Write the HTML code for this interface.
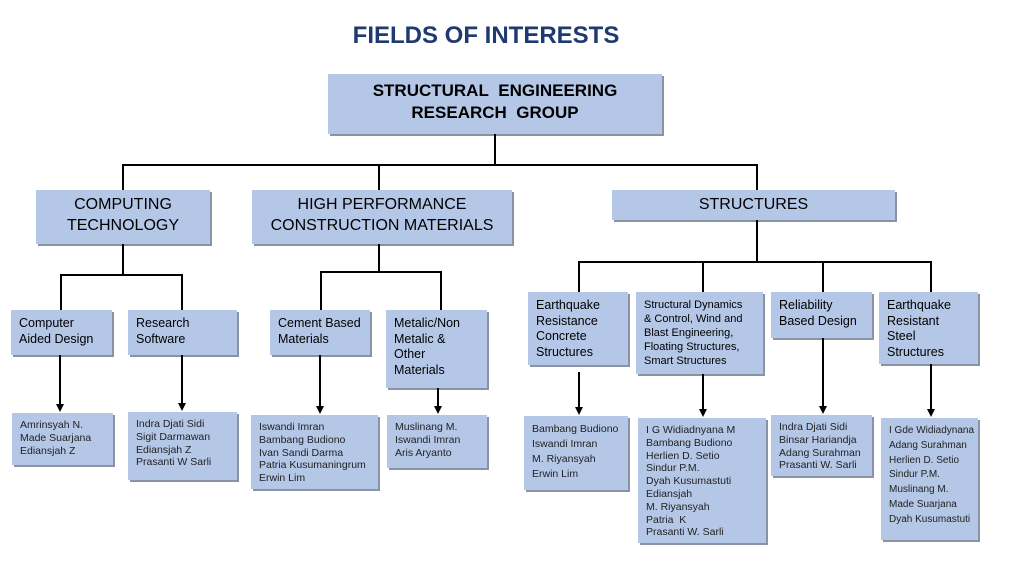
<!DOCTYPE html>
<html><head><style>
body{margin:0;width:1024px;height:579px;background:#fff;position:relative;overflow:hidden;font-family:"Liberation Sans",Arial,sans-serif;}
.b{position:absolute;background:#b4c7e7;box-shadow:2px 2px 0 #8a93a6;box-sizing:border-box;color:#000;}
.l{position:absolute;background:#000;}
.a{position:absolute;width:0;height:0;border-left:4px solid transparent;border-right:4px solid transparent;border-top:8px solid #000;}
.p{font-size:10.5px;line-height:12.8px;padding:6px 8px;color:#222;white-space:nowrap;}
.s{font-size:12.5px;line-height:15.5px;padding:6px 8px;white-space:nowrap;}
.m{font-size:16px;line-height:21px;text-align:center;padding-top:4px;}
</style></head><body>
<div style="position:absolute;left:0;width:972px;top:22px;text-align:center;font-size:24px;font-weight:bold;color:#1f3a70;">FIELDS OF INTERESTS</div>
<div class="b" style="left:328px;top:74px;width:334px;height:60px;text-align:center;font-weight:bold;font-size:17px;line-height:22px;padding-top:6px;">STRUCTURAL&nbsp; ENGINEERING<br>RESEARCH&nbsp; GROUP</div>
<div class="l" style="left:494px;top:134px;width:1.5px;height:31px"></div>
<div class="l" style="left:122px;top:164px;width:635px;height:1.5px"></div>
<div class="l" style="left:122px;top:164px;width:1.5px;height:26px"></div>
<div class="l" style="left:378px;top:164px;width:1.5px;height:26px"></div>
<div class="l" style="left:756px;top:164px;width:1.5px;height:26px"></div>
<div class="b m" style="left:36px;top:190px;width:174px;height:54px;">COMPUTING<br>TECHNOLOGY</div>
<div class="b m" style="left:252px;top:190px;width:260px;height:54px;">HIGH PERFORMANCE<br>CONSTRUCTION MATERIALS</div>
<div class="b m" style="left:612px;top:190px;width:283px;height:30px;">STRUCTURES</div>
<div class="l" style="left:122px;top:244px;width:1.5px;height:31px"></div>
<div class="l" style="left:60px;top:274px;width:123px;height:1.5px"></div>
<div class="l" style="left:60px;top:274px;width:1.5px;height:36px"></div>
<div class="l" style="left:181px;top:274px;width:1.5px;height:36px"></div>
<div class="l" style="left:378px;top:244px;width:1.5px;height:28px"></div>
<div class="l" style="left:320px;top:271px;width:121px;height:1.5px"></div>
<div class="l" style="left:320px;top:271px;width:1.5px;height:39px"></div>
<div class="l" style="left:440px;top:271px;width:1.5px;height:39px"></div>
<div class="l" style="left:756px;top:220px;width:1.5px;height:42px"></div>
<div class="l" style="left:578px;top:261px;width:353px;height:1.5px"></div>
<div class="l" style="left:578px;top:261px;width:1.5px;height:31px"></div>
<div class="l" style="left:702px;top:261px;width:1.5px;height:31px"></div>
<div class="l" style="left:822px;top:261px;width:1.5px;height:31px"></div>
<div class="l" style="left:930px;top:261px;width:1.5px;height:31px"></div>
<div class="b s" style="left:11px;top:310px;width:101px;height:45px;">Computer<br>Aided Design</div>
<div class="b s" style="left:128px;top:310px;width:109px;height:45px;">Research<br>Software</div>
<div class="b s" style="left:270px;top:310px;width:100px;height:45px;">Cement Based<br>Materials</div>
<div class="b s" style="left:386px;top:310px;width:101px;height:78px;">Metalic/Non<br>Metalic &amp;<br>Other<br>Materials</div>
<div class="b s" style="left:528px;top:292px;width:100px;height:73px;">Earthquake<br>Resistance<br>Concrete<br>Structures</div>
<div class="b" style="left:636px;top:292px;width:127px;height:82px;font-size:11px;line-height:14px;padding:6px 8px;white-space:nowrap;">Structural Dynamics<br>&amp; Control, Wind and<br>Blast Engineering,<br>Floating Structures,<br>Smart Structures</div>
<div class="b s" style="left:771px;top:292px;width:101px;height:46px;">Reliability<br>Based Design</div>
<div class="b s" style="left:879px;top:292px;width:99px;height:72px;">Earthquake<br>Resistant<br>Steel<br>Structures</div>
<div class="l" style="left:59px;top:355px;width:1.5px;height:50px"></div><div class="a" style="left:56px;top:404px"></div>
<div class="l" style="left:181px;top:355px;width:1.5px;height:49px"></div><div class="a" style="left:178px;top:403px"></div>
<div class="l" style="left:319px;top:355px;width:1.5px;height:52px"></div><div class="a" style="left:316px;top:406px"></div>
<div class="l" style="left:437px;top:388px;width:1.5px;height:19px"></div><div class="a" style="left:434px;top:406px"></div>
<div class="l" style="left:578px;top:372px;width:1.5px;height:36px"></div><div class="a" style="left:575px;top:407px"></div>
<div class="l" style="left:702px;top:374px;width:1.5px;height:36px"></div><div class="a" style="left:699px;top:409px"></div>
<div class="l" style="left:822px;top:338px;width:1.5px;height:69px"></div><div class="a" style="left:819px;top:406px"></div>
<div class="l" style="left:930px;top:364px;width:1.5px;height:46px"></div><div class="a" style="left:927px;top:409px"></div>
<div class="b p" style="left:12px;top:413px;width:101px;height:52px;">Amrinsyah N.<br>Made Suarjana<br>Ediansjah Z</div>
<div class="b p" style="left:128px;top:412px;width:109px;height:68px;">Indra Djati Sidi<br>Sigit Darmawan<br>Ediansjah Z<br>Prasanti W Sarli</div>
<div class="b p" style="left:251px;top:415px;width:127px;height:74px;">Iswandi Imran<br>Bambang Budiono<br>Ivan Sandi Darma<br>Patria Kusumaningrum<br>Erwin Lim</div>
<div class="b p" style="left:387px;top:415px;width:100px;height:53px;">Muslinang M.<br>Iswandi Imran<br>Aris Aryanto</div>
<div class="b p" style="left:524px;top:416px;width:104px;height:74px;line-height:15px;">Bambang Budiono<br>Iswandi Imran<br>M. Riyansyah<br>Erwin Lim</div>
<div class="b p" style="left:638px;top:418px;width:128px;height:125px;">I G Widiadnyana M<br>Bambang Budiono<br>Herlien D. Setio<br>Sindur P.M.<br>Dyah Kusumastuti<br>Ediansjah<br>M. Riyansyah<br>Patria&nbsp; K<br>Prasanti W. Sarli</div>
<div class="b p" style="left:771px;top:415px;width:101px;height:61px;">Indra Djati Sidi<br>Binsar Hariandja<br>Adang Surahman<br>Prasanti W. Sarli</div>
<div class="b p" style="left:881px;top:418px;width:97px;height:122px;line-height:14.8px;padding-left:8px;font-size:10px;">I Gde Widiadynana<br>Adang Surahman<br>Herlien D. Setio<br>Sindur P.M.<br>Muslinang M.<br>Made Suarjana<br>Dyah Kusumastuti</div>
</body></html>
